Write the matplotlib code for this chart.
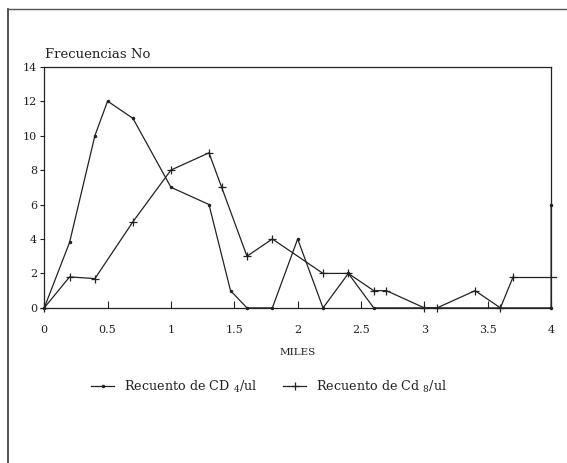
import matplotlib
matplotlib.use('Agg')
import matplotlib.pyplot as plt
from matplotlib.lines import Line2D

# datos
cd4_x = [0, 0.2, 0.4, 0.5, 0.7, 1.0, 1.3, 1.47, 1.6, 1.8, 2.0, 2.2, 2.4, 2.6, 4.0, 4.0]
cd4_y = [0, 3.8, 10, 12, 11, 7, 6, 1, 0, 0, 4, 0, 2, 0, 0, 6]

cd8_x = [0, 0.2, 0.4, 0.7, 1.0, 1.3, 1.4, 1.6, 1.8, 2.2, 2.4, 2.6, 2.7, 3.0, 3.1, 3.4, 3.6, 3.7, 4.04]
cd8_y = [0, 1.8, 1.7, 5, 8, 9, 7, 3, 4, 2, 2, 1, 1, 0, 0, 1, 0, 1.8, 1.8]

x_ticks = [0, 0.5, 1, 1.5, 2, 2.5, 3, 3.5, 4]
x_labels = ['0', '0.5', '1', '1.5', '2', '2.5', '3', '3.5', '4']
y_ticks = [0, 2, 4, 6, 8, 10, 12, 14]

plt.rcParams['font.family'] = ['DejaVu Serif']
plt.rcParams['mathtext.fontset'] = 'dejavuserif'

fig = plt.figure(figsize=(5.67, 4.63), dpi=100)
ax = fig.add_axes([0.078, 0.335, 0.894, 0.521])

col = '#222222'
ax.plot(cd4_x, cd4_y, color=col, lw=0.9, marker='.', ms=3, clip_on=False)
ax.plot(cd8_x[:-1], cd8_y[:-1], color=col, lw=0.9, marker='+', ms=5.5, mew=0.9, clip_on=False)
ax.plot(cd8_x[-2:], cd8_y[-2:], color=col, lw=0.9, clip_on=False)

ax.set_xlim(0, 4)
ax.set_ylim(0, 14)
ax.set_xticks(x_ticks)
ax.set_xticklabels(x_labels)
ax.set_yticks(y_ticks)
ax.tick_params(axis='x', direction='in', length=5, width=0.8, labelsize=8, pad=12, colors=col)
ax.tick_params(axis='y', direction='out', length=3, width=0.8, labelsize=8, pad=2, colors=col)
for s in ax.spines.values():
    s.set_linewidth(0.9)
    s.set_color(col)

ax.set_xlabel('MILES', fontsize=7.5, labelpad=10, color=col)
fig.text(0.079, 0.882, 'Frecuencias No', fontsize=9.5, color=col, va='center')

h1 = Line2D([], [], color=col, lw=0.9, marker='.', ms=3)
h2 = Line2D([], [], color=col, lw=0.9, marker='+', ms=5.5, mew=0.9)
fig.legend([h1, h2], ['Recuento de CD $_{4}$/ul', 'Recuento de Cd $_{8}$/ul'],
           loc='center', bbox_to_anchor=(0.475, 0.165), ncol=2, frameon=False,
           fontsize=9.2, handlelength=1.8, columnspacing=2.0, handletextpad=0.8,
           labelcolor=col)

# marco de la figura (izquierda y arriba)
fig.add_artist(Line2D([0.014, 0.014], [0, 0.981], color='#333333', lw=1.2, transform=fig.transFigure))
fig.add_artist(Line2D([0.014, 1.0], [0.981, 0.981], color='#555555', lw=1.0, transform=fig.transFigure))

plt.savefig('out.png', dpi=100)
